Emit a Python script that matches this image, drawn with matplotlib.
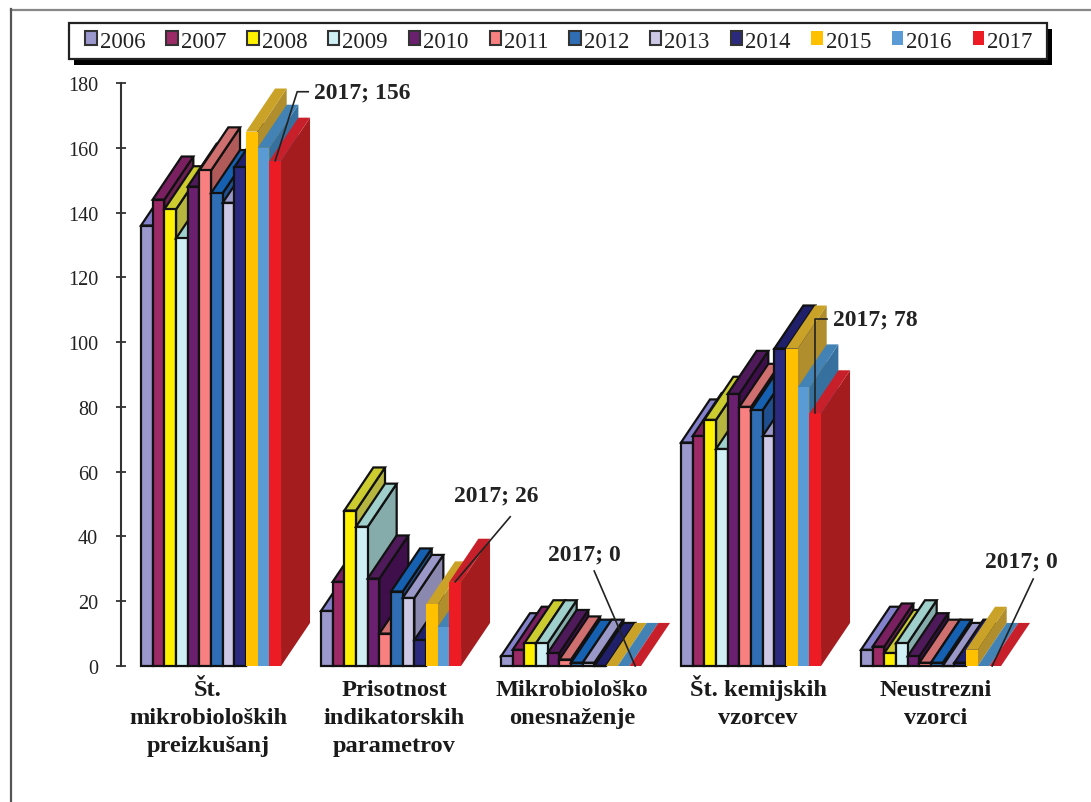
"""
Stevilo preizkusanj po letih, 3D stolpci risani rocno (2006-2017).
"""
import numpy as np
import matplotlib
matplotlib.use('Agg')
import matplotlib.pyplot as plt
from matplotlib.patches import Polygon, Patch, Rectangle
from matplotlib.transforms import IdentityTransform

plt.rcParams['font.family'] = ['Liberation Serif', 'DejaVu Serif']

years = ['2006', '2007', '2008', '2009', '2010', '2011', '2012', '2013', '2014', '2015', '2016', '2017']
categories = ['Št.\nmikrobioloških\npreizkušanj', 'Prisotnost\nindikatorskih\nparametrov',
              'Mikrobiološko\nonesnaženje', 'Št. kemijskih\nvzorcev', 'Neustrezni\nvzorci']

mikrobioloski = [136, 144, 141, 132, 148, 153, 146, 143, 154, 165, 160, 156]
indikatorski = [17, 26, 48, 43, 27, 10, 23, 21, 8, 19, 12, 26]
onesnazenje = [3, 5, 7, 7, 4, 2, 1, 1, 0, 0, 0, 0]
kemijski = [69, 71, 76, 67, 84, 80, 79, 71, 98, 98, 86, 78]
neustrezni = [5, 6, 4, 7, 3, 1, 1, 0, 1, 5, 0, 0]
values = [mikrobioloski, indikatorski, onesnazenje, kemijski, neustrezni]

front = ['#9B98CE', '#9C2A66', '#FFF200', '#CFF0F5', '#6B1F6F', '#F88080',
         '#2F6DB5', '#CCC8E6', '#2B2A7E', '#FFC000', '#5B9BD5', '#ED1C24']
top = ['#8482CC', '#7A2060', '#CCCC30', '#A0D0CC', '#4F1A5A', '#D06F6F',
       '#1560B0', '#9A98C8', '#20206A', '#C9A227', '#4382B5', '#C8202A']
side = ['#7775A8', '#6A1F52', '#B5B540', '#85ABAA', '#3F0F4C', '#B05A5A',
        '#1F4F8F', '#8A88AE', '#15155A', '#B08D2D', '#35709F', '#A51C1F']
outlined = 9  # zadnji trije stolpci nimajo obrobe

W, H = 1091, 803
fig = plt.figure(figsize=(W / 100, H / 100), dpi=100)
ax = fig.add_axes([121 / W, 1 - 667 / H, 900 / W, 583 / H])
ax.set_xlim(0, 5)
ax.set_ylim(0, 180)

bar_w = 11.67 / 180
gap = 20 / 180
depth_x = 29 / 180
depth_y = 13.3

for c, vals in enumerate(values):
    for i, v in enumerate(vals):
        x0 = c + gap + i * bar_w
        x1 = x0 + bar_w
        lw = 1.6 if i < outlined else 0
        ec = '#111111' if i < outlined else 'none'
        z = 3 + c * 20 + i
        ax.add_patch(Polygon([(x1, 0), (x1 + depth_x, depth_y), (x1 + depth_x, v + depth_y), (x1, v)],
                             fc=side[i], ec=ec, lw=lw, zorder=z, clip_on=False))
        ax.add_patch(Polygon([(x0, v), (x0 + depth_x, v + depth_y), (x1 + depth_x, v + depth_y), (x1, v)],
                             fc=top[i], ec=ec, lw=lw, zorder=z, clip_on=False))
        ax.bar(x0, v, bar_w, align='edge', color=front[i], edgecolor=ec, linewidth=lw, zorder=z, clip_on=False)

# osi
for s in ['top', 'right', 'bottom']:
    ax.spines[s].set_visible(False)
ax.spines['left'].set_linewidth(1.5)
ax.spines['left'].set_color('#333333')
ax.set_xticks([])
ax.set_yticks(np.arange(0, 181, 20))
ax.tick_params(axis='y', direction='inout', length=7, width=1.3, color='#333333', pad=13, labelsize=14.5,
               labelcolor='#222222')

# oznake kategorij
label_x = [208, 394, 572, 758, 936]
for name, lx in zip(categories, label_x):
    for j, line in enumerate(name.split('\n')):
        fig.text(lx / W, 1 - (696 + 28 * j) / H, line, ha='center', va='baseline', fontsize=17.6,
                 fontweight='bold', color='#1a1a1a')

# oznake 2017 z vodili (odmiki v pikslih od vrha stolpca)
callouts = [
    (0, [(0, 0), (22, 69), (33, 69)], (39, 69), 'left'),
    (1, [(0, 0), (55, 65)], (41, 87), 'center'),
    (2, [(0, 0), (-41, 95)], (-51, 112), 'center'),
    (3, [(0, 0), (0, 94), (12, 94)], (18, 94), 'left'),
    (4, [(-3, 0), (38, 87)], (26, 105), 'center'),
]
for c, offs, txt, ha in callouts:
    v = values[c][11]
    xm = c + gap + 11.5 * bar_w
    bx, by = ax.transData.transform((xm, v))
    xs = [bx + o[0] for o in offs]
    ys = [by + o[1] for o in offs]
    ax.plot(xs, ys, color='#222222', lw=1.2, transform=IdentityTransform(), zorder=300, clip_on=False)
    ax.annotate('2017; %d' % v, (xm, v), xytext=(txt[0] * 0.72, txt[1] * 0.72), textcoords='offset points',
                ha=ha, va='center', fontsize=17, fontweight='bold', color='#222222', zorder=301)

# okvir legende s senco, legenda sama nima okvirja
fig.add_artist(Rectangle((74 / W, 1 - 66 / H), 978 / W, 36 / H, transform=fig.transFigure,
                         fc='black', ec='black', lw=0, zorder=1))
fig.add_artist(Rectangle((69 / W, 1 - 60 / H), 978 / W, 36 / H, transform=fig.transFigure,
                         fc='white', ec='#222222', lw=1.6, zorder=2))
handles = [Patch(facecolor=front[i], edgecolor='#333333' if i < outlined else 'none', linewidth=1.5)
           for i in range(12)]
leg = fig.legend(handles, years, ncol=12, loc='center', bbox_to_anchor=(559 / W, 1 - 42 / H),
                 fontsize=16.5, frameon=False, handlelength=0.5, handleheight=0.55, handletextpad=0.13,
                 columnspacing=0.91, borderpad=0.32, borderaxespad=0, labelcolor='#222222')
leg.set_zorder(5)

# okvir slike
fig.add_artist(plt.Line2D([11 / W, 1], [1 - 10.5 / H, 1 - 10.5 / H], color='#888888', lw=1.6))
fig.add_artist(plt.Line2D([11 / W, 11 / W], [0, 1 - 10 / H], color='#555555', lw=1.6))

fig.savefig('out.png', dpi=100)
